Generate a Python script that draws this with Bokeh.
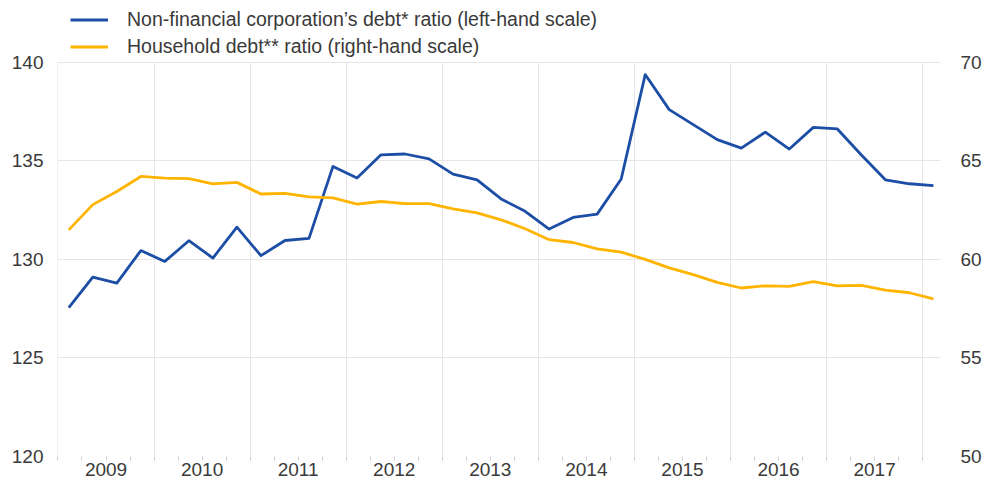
from bokeh.plotting import figure
from bokeh.models import (Range1d, LinearAxis, FixedTicker, Legend, LegendItem)
from bokeh.embed import file_html
from bokeh.resources import INLINE

# ---- data ----
quarters = [
    "2009Q1", "2009Q2", "2009Q3", "2009Q4",
    "2010Q1", "2010Q2", "2010Q3", "2010Q4",
    "2011Q1", "2011Q2", "2011Q3", "2011Q4",
    "2012Q1", "2012Q2", "2012Q3", "2012Q4",
    "2013Q1", "2013Q2", "2013Q3", "2013Q4",
    "2014Q1", "2014Q2", "2014Q3", "2014Q4",
    "2015Q1", "2015Q2", "2015Q3", "2015Q4",
    "2016Q1", "2016Q2", "2016Q3", "2016Q4",
    "2017Q1", "2017Q2", "2017Q3", "2017Q4",
    "2018Q1",
]
nfc_debt = [
    127.55, 129.10, 128.80, 130.45,
    129.90, 130.95, 130.07, 131.64,
    130.19, 130.96, 131.07, 134.72,
    134.13, 135.31, 135.35, 135.10,
    134.33, 134.04, 133.07, 132.44,
    131.54, 132.13, 132.30, 134.08,
    139.38, 137.60, 136.84, 136.08,
    135.65, 136.46, 135.60, 136.70,
    136.62, 135.30, 134.04, 133.84,
    133.74,
]
household_debt = [
    61.50, 62.78, 63.45, 64.21,
    64.13, 64.10, 63.83, 63.91,
    63.32, 63.35, 63.17, 63.12,
    62.81, 62.94, 62.83, 62.83,
    62.56, 62.36, 62.01, 61.56,
    61.00, 60.86, 60.54, 60.37,
    60.00, 59.57, 59.23, 58.84,
    58.55, 58.66, 58.63, 58.88,
    58.66, 58.68, 58.44, 58.31,
    58.00,
]
year_labels = ["2009", "2010", "2011", "2012", "2013", "2014", "2015", "2016", "2017"]
left_ticks = [120, 125, 130, 135, 140]
right_ticks = [50, 55, 60, 65, 70]
series_names = [
    "Non-financial corporation\u2019s debt* ratio (left-hand scale)",
    "Household debt** ratio (right-hand scale)",
]

BLUE = "#1d4ea6"
YELLOW = "#ffb400"
TEXT = "#3a3a3a"
GRID = "#e6e6e6"
FONT = "Liberation Sans"
FS = "19px"

x = [int(q[:4]) + (int(q[5]) - 0.55) / 4 for q in quarters]
years = [int(y) for y in year_labels]
boundaries = years + [years[-1] + 1]

# frame spans the legend area too; the value area 120..140 sits below the legend
extra_top = 62 / 19.75  # room for legend, in axis units
p = figure(width=984, height=478, output_backend="svg", toolbar_location=None,
           x_range=Range1d(2008.995, 2018.186),
           y_range=Range1d(120, 140 + extra_top),
           min_border_left=57, min_border_right=39, min_border_top=0,
           min_border_bottom=0)
p.extra_y_ranges = {"right": Range1d(50, 70 + extra_top)}
p.outline_line_color = None
p.background_fill_color = "white"
p.border_fill_color = "white"

# x axis
p.xaxis.ticker = FixedTicker(ticks=[y + 0.5 for y in years],
                             minor_ticks=[b + k * 0.25 for b in years for k in range(4)] + [boundaries[-1]])
p.xaxis.major_label_overrides = {y + 0.5: lab for y, lab in zip(years, year_labels)}
p.xaxis.major_tick_line_color = None
p.xaxis.axis_line_color = None
p.xaxis.minor_tick_line_color = "#d0d0d0"
p.xaxis.minor_tick_in = 0
p.xaxis.minor_tick_out = 4
p.xaxis.major_label_standoff = 0
p.xaxis.major_label_text_font = FONT
p.xaxis.major_label_text_font_size = FS
p.xaxis.major_label_text_color = TEXT

# left y axis
p.yaxis.ticker = FixedTicker(ticks=left_ticks)
p.yaxis.axis_line_color = None
p.yaxis.major_tick_line_color = None
p.yaxis.minor_tick_line_color = None
p.yaxis.major_label_standoff = 8
p.yaxis.major_label_text_font = FONT
p.yaxis.major_label_text_font_size = FS
p.yaxis.major_label_text_color = TEXT

# right y axis
ra = LinearAxis(y_range_name="right", ticker=FixedTicker(ticks=right_ticks))
ra.axis_line_color = None
ra.major_tick_line_color = None
ra.minor_tick_line_color = None
ra.major_label_standoff = 14
ra.major_label_text_font = FONT
ra.major_label_text_font_size = FS
ra.major_label_text_color = TEXT
p.add_layout(ra, "right")

# grids
p.xgrid.ticker = FixedTicker(ticks=boundaries)
p.xgrid.grid_line_color = GRID
p.xgrid.cross_bounds = (left_ticks[0], left_ticks[-1])
p.ygrid.ticker = FixedTicker(ticks=left_ticks)
p.ygrid.grid_line_color = GRID

r1 = p.line(x, nfc_debt, line_color=BLUE, line_width=2.8, line_join="round")
r2 = p.line(x, household_debt, line_color=YELLOW, line_width=2.8, line_join="round",
            y_range_name="right")

legend = Legend(items=[LegendItem(label=series_names[0], renderers=[r1]),
                       LegendItem(label=series_names[1], renderers=[r2])],
                location=(13, 396))
legend.glyph_width = 38
legend.glyph_height = 27
legend.label_height = 27
legend.label_standoff = 19
legend.spacing = 0
legend.padding = 0
legend.margin = 0
legend.border_line_color = None
legend.background_fill_alpha = 0
legend.label_text_font = FONT
legend.label_text_font_size = "19.5px"
legend.label_text_color = TEXT
p.add_layout(legend)

open("out.html", "w").write(file_html(p, INLINE))
